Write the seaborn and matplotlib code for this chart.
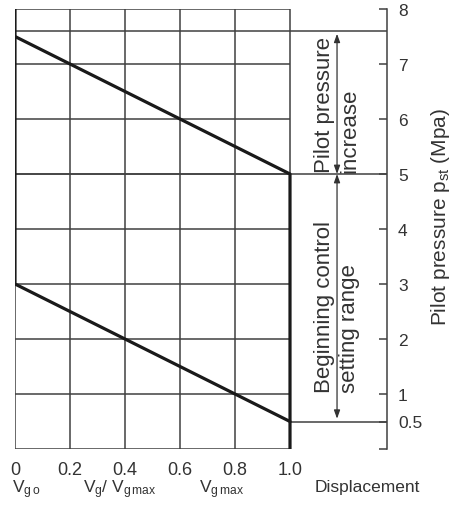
import matplotlib
matplotlib.use("Agg")
import matplotlib.pyplot as plt
import seaborn as sns

# displacement Vg/Vgmax against pilot pressure pst (MPa)
disp_upper = [0.0, 1.0, 1.0]
press_upper = [7.5, 5.0, 0.0]
disp_lower = [0.0, 0.0, 1.0]
press_lower = [8.0, 3.0, 0.5]

grid_x = [0.0, 0.2, 0.4, 0.6, 0.8, 1.0]
x_labels = ["0", "0.2", "0.4", "0.6", "0.8", "1.0"]
grid_y = [0, 1, 2, 3, 4, 5, 6, 7, 8]
y_ticks = [0, 0.5, 1, 2, 3, 4, 5, 6, 7, 8]
y_labels = ["", "0.5", "1", "2", "3", "4", "5", "6", "7", "8"]

increase_range = [7.6, 5.0]
setting_range = [5.0, 0.5]

sns.set_style("white")
plt.rcParams["font.family"] = ["Liberation Sans", "DejaVu Sans"]
plt.rcParams["mathtext.fontset"] = "custom"
plt.rcParams["mathtext.rm"] = "Liberation Sans"
plt.rcParams["mathtext.it"] = "Liberation Sans:italic"

txt = "#333333"
grid_c = "#404040"
x_right = 1.3527   # where the pressure axis sits
x_arrow = 1.171

fig = plt.figure(figsize=(4.67, 5.06), dpi=100)
ax = fig.add_axes([15 / 467, 56 / 506, 372 / 467, 440 / 506])
ax.set_xlim(0, x_right)
ax.set_ylim(0, 8)

# grid of the chart
ax.vlines(grid_x, 0, 8, color=grid_c, lw=1.1, zorder=1)
ax.hlines(grid_y, 0, 1.0, color=grid_c, lw=1.1, zorder=1)
ax.hlines(increase_range, 0, x_right, color=grid_c, lw=1.1, zorder=1, clip_on=False)
ax.hlines(setting_range[1], 1.0, x_right, color=grid_c, lw=1.1, zorder=1, clip_on=False)

# characteristic
sns.lineplot(x=disp_upper, y=press_upper, sort=False, estimator=None,
             color="#1a1a1a", lw=2.3, ax=ax, zorder=3)
sns.lineplot(x=disp_lower, y=press_lower, sort=False, estimator=None,
             color="#1a1a1a", lw=2.3, ax=ax, zorder=3)

# range arrows
arrow_kw = dict(arrowstyle="<|-|>,head_length=0.5,head_width=0.18", color=txt,
                lw=0.9, shrinkA=0, shrinkB=2)
ax.annotate("", xy=(x_arrow, increase_range[0]), xytext=(x_arrow, increase_range[1]),
            arrowprops=arrow_kw)
ax.annotate("", xy=(x_arrow, setting_range[0]), xytext=(x_arrow, setting_range[1]),
            arrowprops=dict(arrow_kw, shrinkA=2, shrinkB=0))

ax.text(x_arrow, 5.03, "Pilot pressure\nincrease", rotation=90, ha="center",
        va="bottom", multialignment="left", fontsize=16, linespacing=1.3, color=txt)
ax.text(x_arrow, 1.03, "Beginning control\nsetting range", rotation=90, ha="center",
        va="bottom", multialignment="left", fontsize=16, linespacing=1.3, color=txt)

# axes
for side in ["top", "left", "bottom"]:
    ax.spines[side].set_visible(False)
ax.spines["right"].set_color(grid_c)
ax.spines["right"].set_linewidth(1.1)
ax.yaxis.tick_right()
ax.set_yticks(y_ticks)
ax.set_yticklabels(y_labels)
ax.tick_params(axis="y", direction="in", length=6, width=1.1, color=grid_c,
               pad=8, labelsize=12.5, labelcolor=txt, right=True, left=False)
ax.set_xticks(grid_x)
ax.set_xticklabels(x_labels)
ax.tick_params(axis="x", length=0, pad=9, labelsize=13, labelcolor=txt)

ax.yaxis.set_label_position("right")
ax.set_ylabel(r"Pilot pressure $\mathrm{p_{st}}$ (Mpa)", fontsize=15, color=txt,
              rotation=90, va="center")
ax.yaxis.set_label_coords(1.1425, 0.53)

ax.text(-0.01, -0.73, r"$\mathrm{V_{g\,o}}$", fontsize=12.5, ha="left", va="center",
        color=txt, clip_on=False)
ax.text(0.38, -0.73, r"$\mathrm{V_g/\ V_{g\,max}}$", fontsize=12.5, ha="center",
        va="center", color=txt, clip_on=False)
ax.text(0.75, -0.73, r"$\mathrm{V_{g\,max}}$", fontsize=12.5, ha="center",
        va="center", color=txt, clip_on=False)
ax.text(1.09, -0.69, "Displacement", fontsize=12.5, ha="left", va="center",
        color=txt, clip_on=False)

fig.savefig("out.png", dpi=100)
